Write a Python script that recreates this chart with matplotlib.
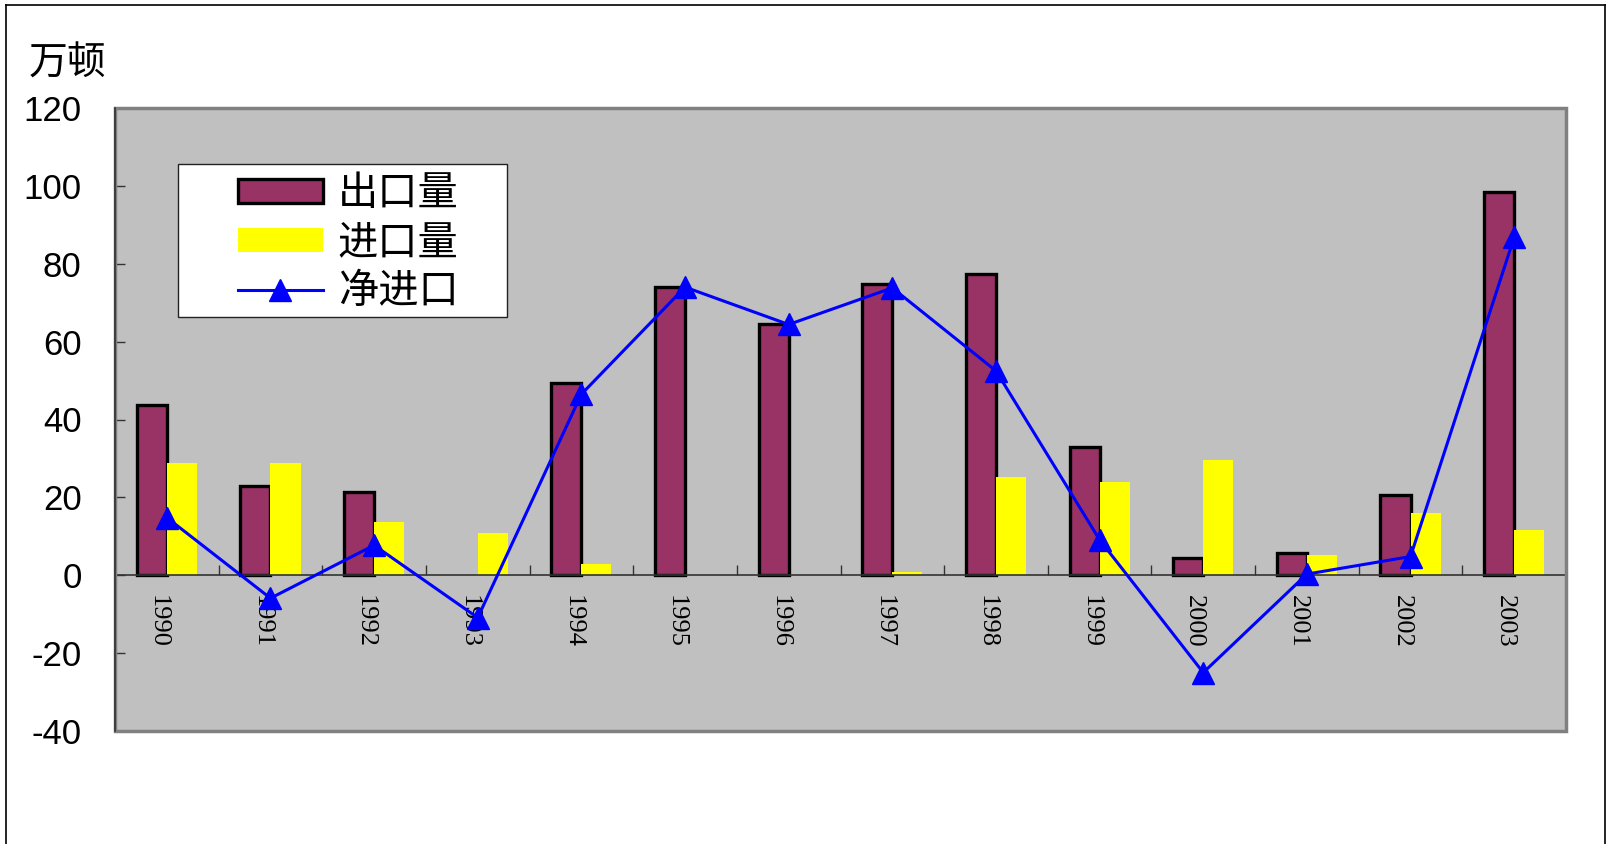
import matplotlib
matplotlib.use('Agg')
import matplotlib.pyplot as plt
import matplotlib.transforms as mtransforms
import numpy as np
from matplotlib.lines import Line2D
from matplotlib.patches import Rectangle
from matplotlib.ticker import FixedLocator, NullFormatter

plt.rcParams['axes.unicode_minus'] = False

years = ['1990', '1991', '1992', '1993', '1994', '1995', '1996',
         '1997', '1998', '1999', '2000', '2001', '2002', '2003']
exports = [43.7, 23.0, 21.5, 0, 49.5, 74.0, 64.4, 74.7, 77.4, 33.0, 4.4, 5.7, 20.7, 98.3]
imports = [28.9, 28.9, 13.8, 10.9, 3.0, 0, 0, 0.9, 25.3, 23.9, 29.6, 5.2, 15.9, 11.6]
net = [14.8, -5.9, 7.7, -10.9, 46.5, 74.0, 64.4, 73.8, 52.5, 9.1, -25.0, 0.3, 4.8, 86.8]
yticks = [-40, -20, 0, 20, 40, 60, 80, 100, 120]

cjk = ['Noto Sans CJK SC', 'DejaVu Sans']

fig = plt.figure(figsize=(16.1, 8.44), dpi=100)
ax = fig.add_axes([115 / 1610, 1 - 731 / 844, (1566 - 115) / 1610, (731 - 108) / 844])
ax.set_facecolor('#C0C0C0')

x = np.arange(len(years))
w = 0.29
edge = ['black' if v > 0 else 'none' for v in exports]
b1 = ax.bar(x - w / 2, exports, w, color='#993366', edgecolor=edge, linewidth=2.4,
            label='出口量', zorder=2)
b2 = ax.bar(x + w / 2, imports, w, color='#FFFF00', label='进口量', zorder=2)
l1, = ax.plot(x, net, color='#0000FF', lw=2.2, marker='^', markersize=16,
              label='净进口', zorder=4)

ax.set_xlim(-0.5, len(years) - 0.5)
ax.set_ylim(-40, 120)

# category axis sits on zero, plot area keeps its own grey frame
for s in ['top', 'right', 'left']:
    ax.spines[s].set_visible(False)
ax.spines['bottom'].set_position(('data', 0))
ax.spines['bottom'].set_color('#333333')
ax.spines['bottom'].set_linewidth(1.2)
ax.add_patch(Rectangle((0, 0), 1, 1, transform=ax.transAxes, fill=False,
                       edgecolor='#808080', lw=2.5, zorder=5, clip_on=False))
ax.add_line(Line2D([0, 0], [0, 1], transform=ax.transAxes, color='#333333',
                   lw=1.2, zorder=6, clip_on=False))

ax.set_xticks(x)
ax.set_xticklabels(years, rotation=270, fontsize=19, family='Liberation Serif')
ax.tick_params(axis='x', which='major', length=0, pad=14)
ax.xaxis.set_minor_locator(FixedLocator(np.arange(-0.5, len(years), 1)))
ax.xaxis.set_minor_formatter(NullFormatter())
ax.tick_params(axis='x', which='minor', direction='in', length=7, width=1, color='#333333')
shift = mtransforms.ScaledTranslation(-9 / 100, 0, fig.dpi_scale_trans)
for lab in ax.get_xticklabels():
    lab.set_va('top')
    lab.set_transform(lab.get_transform() + shift)

ax.set_yticks(yticks)
ax.set_yticklabels([str(t) for t in yticks], fontsize=25, family='Liberation Sans')
ax.tick_params(axis='y', direction='in', length=7, width=1, color='#333333', pad=24)

fig.text(29 / 1610, 1 - 64 / 844, '万顿', fontsize=28, family=cjk, va='center', ha='left')

# legend box drawn separately so the inner padding can be uneven
fig.add_artist(Rectangle((178 / 1610, 1 - 317 / 844), (507 - 178) / 1610, (317 - 164) / 844,
                         transform=fig.transFigure, facecolor='white',
                         edgecolor='#222222', lw=1.0, zorder=6))
leg = ax.legend([b1, b2, l1], ['出口量', '进口量', '净进口'],
                loc='upper left', bbox_to_anchor=(238 / 1610, 1 - 173 / 844),
                bbox_transform=fig.transFigure, prop={'family': cjk, 'size': 29},
                handlelength=2.1, handleheight=0.55, handletextpad=0.38,
                labelspacing=0.2, borderpad=0, borderaxespad=0, frameon=False)
leg.set_zorder(7)
leg.remove()
fig.add_artist(leg)

# outer chart border (open at the bottom)
for xs, ys in [([6, 6], [844, 5]), ([6, 1605], [5, 5]), ([1605, 1605], [5, 844])]:
    fig.add_artist(Line2D([v / 1610 for v in xs], [1 - v / 844 for v in ys],
                          transform=fig.transFigure, color='black', lw=1.2))

fig.savefig('out.png', dpi=100)
